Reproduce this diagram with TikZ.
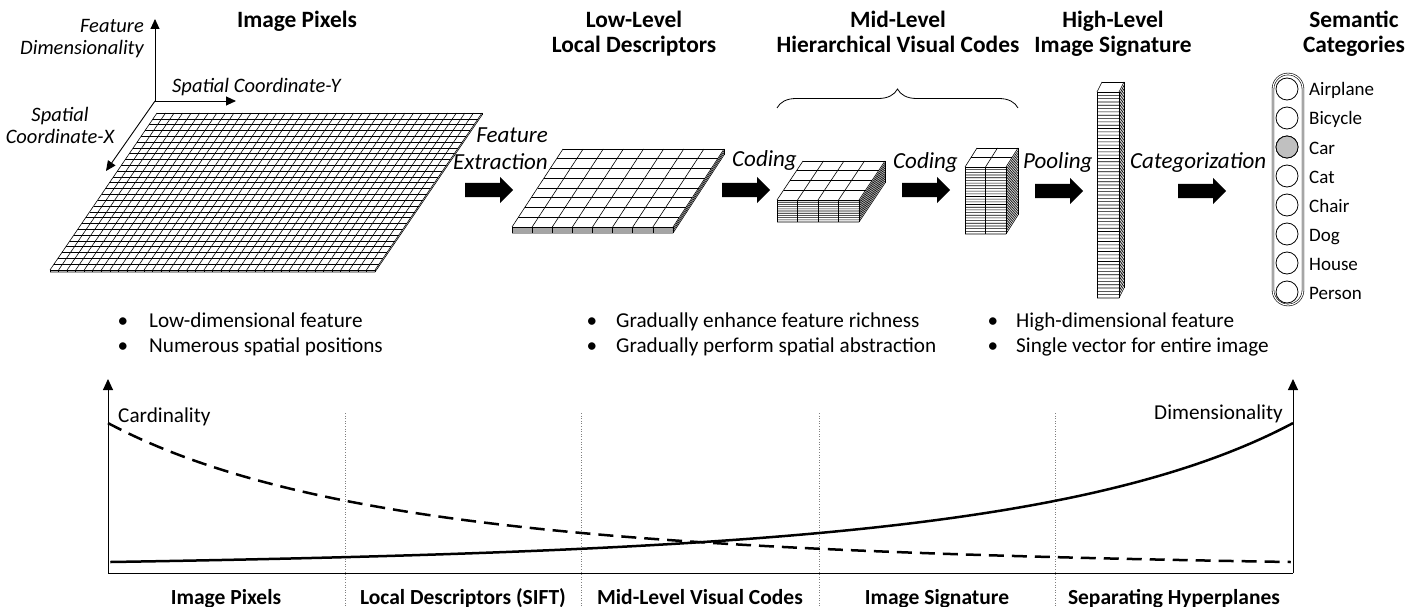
\documentclass[tikz,border=0pt]{standalone}
\usepackage{fontspec}
\setmainfont{Carlito}
\usetikzlibrary{arrows.meta,decorations.pathreplacing}

% \slab{x0}{y0}{w}{dx}{h}{cols}{rows}{thick}{layers}
% top face: back edge from (x0,y0) to (x0+w,y0), front edge shifted by (-dx,h);
% below it a stack of thin layers, "thick" high in total.
\newcommand{\slab}[9]{%
  \fill[white] (#1,#2) -- ({#1+#3},#2) -- ({#1+#3},{#2+#8}) -- ({#1+#3-#4},{#2+#5+#8})
    -- ({#1-#4},{#2+#5+#8}) -- ({#1-#4},{#2+#5}) -- cycle;
  \foreach \k in {1,...,#9}
    \draw[gridline] ({#1-#4},{#2+#5+\k*#8/#9}) -- ({#1+#3-#4},{#2+#5+\k*#8/#9}) -- ({#1+#3},{#2+\k*#8/#9});
  \foreach \i in {0,...,#6}
    \draw[gridline] ({#1-#4+\i*#3/#6},{#2+#5}) -- ({#1-#4+\i*#3/#6},{#2+#5+#8});
  \draw[gridline] ({#1+#3},#2) -- ({#1+#3},{#2+#8});
  \foreach \i in {0,...,#6}
    \draw[gridline] ({#1+\i*#3/#6},#2) -- ({#1-#4+\i*#3/#6},{#2+#5});
  \foreach \j in {0,...,#7}
    \draw[gridline] ({#1-\j*#4/#7},{#2+\j*#5/#7}) -- ({#1+#3-\j*#4/#7},{#2+\j*#5/#7});
}

\begin{document}
\begin{tikzpicture}[x=1pt,y=-1pt,
  gridline/.style={line width=0.6pt},
  hdr/.style={font=\fontsize{23.4}{26}\selectfont\bfseries, anchor=base, inner sep=0},
  proc/.style={font=\fontsize{23}{26}\selectfont\itshape, inner sep=0},
  axlab/.style={font=\fontsize{20.5}{23}\selectfont\itshape, inner sep=0},
  body/.style={font=\fontsize{21.2}{25}\selectfont, inner sep=0, anchor=base west},
  catlab/.style={font=\fontsize{19}{22}\selectfont, inner sep=0, anchor=base west},
  botlab/.style={font=\fontsize{21.5}{25}\selectfont\bfseries, inner sep=0, anchor=base},
  catdot/.style={circle, draw, line width=0.8pt, minimum size=22pt, inner sep=0},
  axarrow/.style={line width=0.9pt, -{Triangle[length=10pt,width=9pt]}},
  chartaxis/.style={line width=1pt},
  sep/.style={gray, dotted, line width=0.6pt},
  curve/.style={line width=2.5pt},
  blockarrow/.pic={\fill (0,-7) -- (35,-7) -- (35,-13) -- (48,0) -- (35,13) -- (35,7) -- (0,7) -- cycle;}
]
\useasboundingbox (0,0) rectangle (1406,607);

% ---------- column headings ----------
\node[hdr] (hpix) at (297,28) {Image Pixels};
\node[hdr] (hlow1) at (634,28) {Low-Level};
\node[hdr] (hlow2) at (634,53) {Local Descriptors};
\node[hdr] (hmid1) at (898,28) {Mid-Level};
\node[hdr] (hmid2) at (898,53) {Hierarchical Visual Codes};
\node[hdr] (hhigh1) at (1113,28) {High-Level};
\node[hdr] (hhigh2) at (1113,53) {Image Signature};
\node[hdr] (hsem1) at (1354,28) {Semantic};
\node[hdr] (hsem2) at (1354,53) {Categories};

% ---------- coordinate frame of the pixel grid ----------
\coordinate (O) at (155,101);
\coordinate (Ofeat) at (155,19);
\coordinate (Oy) at (236,101);
\coordinate (Ox) at (106,171);
\draw[axarrow] (O) -- (Ofeat);
\draw[axarrow] (O) -- (Oy);
\draw[axarrow] (O) -- (Ox);
\node[axlab, anchor=base east] (lf1) at (144,33) {Feature};
\node[axlab, anchor=base east] (lf2) at (144,55) {Dimensionality};
\node[axlab, anchor=base west] (ly) at (172,93) {Spatial Coordinate-Y};
\node[axlab, anchor=base] (lx1) at (60,122) {Spatial};
\node[axlab, anchor=base] (lx2) at (60,144) {Coordinate-X};

% ---------- feature maps ----------
\slab{157}{113}{325}{107}{157}{38}{27}{2}{1}
\slab{563}{149}{161}{51}{78}{8}{8}{6}{3}
\slab{803}{161}{82}{26}{39}{4}{4}{22}{10}
\slab{977}{148}{41}{12}{19}{2}{2}{67}{25}
\slab{1102}{82}{22}{5}{10}{1}{1}{206}{62}

\draw[decorate, decoration={brace, amplitude=19pt}, line width=0.8pt] (777,108) -- (1018,108);

% ---------- processing steps ----------
\node[proc, anchor=base east] (pfe1) at (548,143) {Feature};
\node[proc, anchor=base east] (pfe2) at (548,170) {Extraction};
\pic at (465,190) {blockarrow};
\node[proc, anchor=base west] (pc1) at (732,167) {Coding};
\pic at (722,190) {blockarrow};
\node[proc, anchor=base west] (pc2) at (893,168) {Coding};
\pic at (902,190) {blockarrow};
\node[proc, anchor=base west] (ppool) at (1023,168) {Pooling};
\pic at (1035,191) {blockarrow};
\node[proc, anchor=base west] (pcat) at (1130,168) {Categorization};
\pic at (1178,191) {blockarrow};

% ---------- category outputs ----------
\node[draw, double, double distance=1.2pt, line width=0.6pt, rounded corners=15pt,
      minimum width=30pt, minimum height=231pt, inner sep=0] (caps) at (1288,189.5) {};
\foreach \n/\lab [count=\i from 0] in {c1/Airplane, c2/Bicycle, c3/Car, c4/Cat, c5/Chair, c6/Dog, c7/House, c8/Person}{
  \node[catdot] (\n) at (1287,{89+29*\i}) {};
  \node[catlab] (\n-l) at (1309,{96+29*\i}) {\lab};
}
\node[catdot, fill={rgb,255:red,192;green,192;blue,192}] (c3) at (1287,147) {};

% ---------- bullet notes ----------
\foreach \x/\t/\a/\b in {123/149/Low-dimensional feature/Numerous spatial positions,
                         592/616/Gradually enhance feature richness/Gradually perform spatial abstraction,
                         993/1016/High-dimensional feature/Single vector for entire image}{
  \node[body, anchor=base] at (\x,327) {\textbullet};
  \node[body] at (\t,327) {\a};
  \node[body, anchor=base] at (\x,352) {\textbullet};
  \node[body] at (\t,352) {\b};
}

% ---------- cardinality / dimensionality chart ----------
\coordinate (c0) at (108,573);
\coordinate (cL) at (108,379);
\coordinate (c1r) at (1293,573);
\coordinate (cR) at (1293,379);
\foreach \x in {345,581,819,1055} \draw[sep] (\x,413) -- (\x,607);
\draw[chartaxis, -{Triangle[length=11pt,width=10pt]}] (c0) -- (cL);
\draw[chartaxis] (c0) -- (c1r);
\draw[chartaxis, -{Triangle[length=11pt,width=10pt]}] (c1r) -- (cR);

\draw[curve, dash pattern=on 15pt off 8pt] plot[domain=0:1, samples=150]
  ({108+1185*\x},{573-0.5*(-23.8+43.4/(\x+0.25))-0.5*(8.4+141.6*exp(-4*\x))});
\draw[curve] plot[domain=0:1, samples=150]
  ({1293-1185*\x},{573-0.5*(-23.8+43.4/(\x+0.25))-0.5*(8.4+141.6*exp(-4*\x))});

\node[body] (lcard) at (118,422) {Cardinality};
\node[body, anchor=base east] (ldim) at (1283,419) {Dimensionality};

\node[botlab] (b1) at (226,604) {Image Pixels};
\node[botlab] (b2) at (463,604) {Local Descriptors (SIFT)};
\node[botlab] (b3) at (700,604) {Mid-Level Visual Codes};
\node[botlab] (b4) at (937,604) {Image Signature};
\node[botlab] (b5) at (1174,604) {Separating Hyperplanes};
\end{tikzpicture}
\end{document}
